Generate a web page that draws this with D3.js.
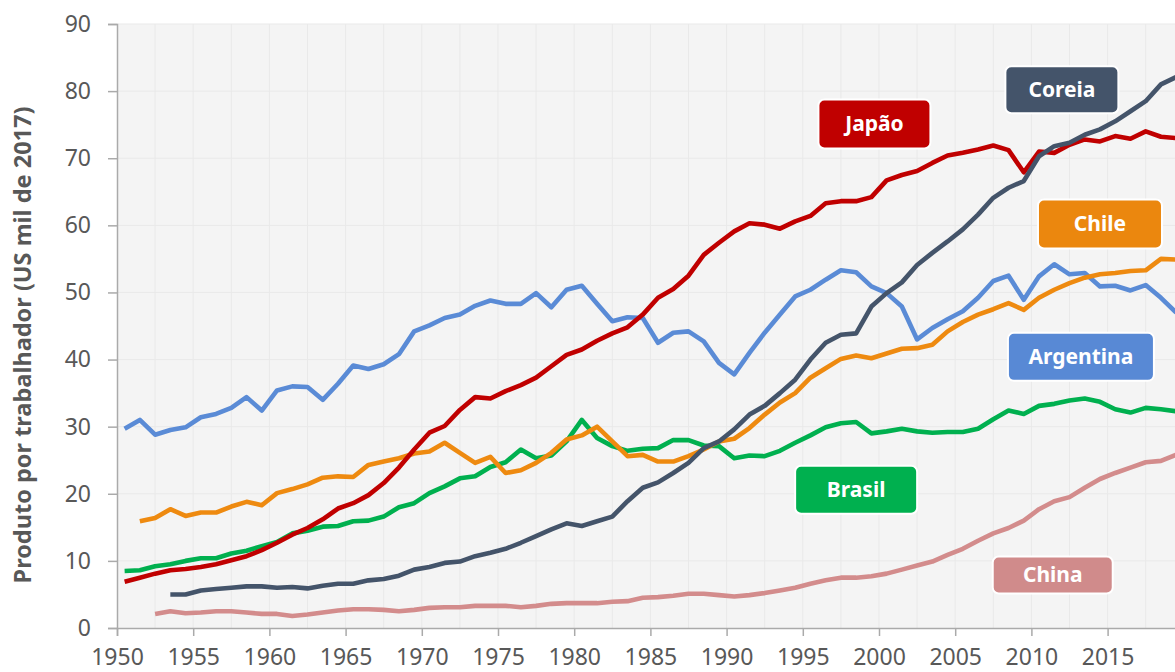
<!DOCTYPE html>
<html>
<head>
<meta charset="utf-8">
<script src="https://cdn.jsdelivr.net/npm/d3@7"></script>
<style>
  body { margin: 0; background: #fff; }
  svg { display: block; font-family: "Noto Sans", sans-serif; }
</style>
</head>
<body>
<div id="chart"></div>
<script>
// values, one per year (US$ thousand of 2017 per worker)
const japanStart = 1950;
const japan = [6.9, 7.5, 8.1, 8.6, 8.8, 9.1, 9.5, 10.1, 10.7, 11.6,
  12.7, 13.9, 14.9, 16.2, 17.8, 18.6, 19.8, 21.6, 23.9, 26.6,
  29.1, 30.1, 32.5, 34.4, 34.2, 35.3, 36.2, 37.3, 39.0, 40.7,
  41.5, 42.8, 43.9, 44.8, 46.7, 49.2, 50.5, 52.5, 55.6, 57.4,
  59.1, 60.3, 60.1, 59.5, 60.6, 61.4, 63.3, 63.6, 63.6, 64.2,
  66.7, 67.5, 68.1, 69.3, 70.4, 70.8, 71.3, 71.9, 71.2, 67.9,
  71.0, 70.8, 72.0, 72.8, 72.5, 73.3, 72.9, 74.0, 73.2, 73.0];

const koreaStart = 1953;
const korea = [5.0, 5.0, 5.6, 5.8, 6.0, 6.2, 6.2,
  6.0, 6.1, 5.9, 6.3, 6.6, 6.6, 7.1, 7.3, 7.8, 8.7,
  9.1, 9.7, 9.9, 10.7, 11.2, 11.8, 12.7, 13.7, 14.7, 15.6,
  15.2, 15.9, 16.6, 18.9, 20.9, 21.7, 23.1, 24.6, 26.8, 27.8,
  29.6, 31.8, 33.1, 35.0, 37.0, 40.0, 42.5, 43.7, 43.9, 47.9,
  49.9, 51.5, 54.1, 55.9, 57.6, 59.4, 61.6, 64.1, 65.6, 66.6,
  70.3, 71.8, 72.3, 73.5, 74.3, 75.5, 77.0, 78.5, 81.0, 82.1];

const chileStart = 1951;
const chile = [15.9, 16.4, 17.7, 16.7, 17.2, 17.2, 18.1, 18.8, 18.3,
  20.1, 20.7, 21.4, 22.4, 22.6, 22.5, 24.3, 24.8, 25.3, 26.0,
  26.3, 27.6, 26.1, 24.6, 25.5, 23.1, 23.5, 24.6, 26.1, 28.1,
  28.7, 30.0, 27.8, 25.6, 25.8, 24.8, 24.8, 25.6, 26.6, 27.8,
  28.2, 29.8, 31.8, 33.6, 35.0, 37.3, 38.7, 40.1, 40.6, 40.2,
  40.9, 41.6, 41.7, 42.2, 44.2, 45.6, 46.7, 47.5, 48.4, 47.4,
  49.2, 50.4, 51.4, 52.2, 52.7, 52.9, 53.2, 53.3, 55.0, 54.9];

const argentinaStart = 1950;
const argentina = [29.7, 31.0, 28.8, 29.5, 29.9, 31.4, 31.9, 32.8, 34.4, 32.4,
  35.4, 36.0, 35.9, 34.0, 36.4, 39.1, 38.6, 39.3, 40.8, 44.2,
  45.1, 46.2, 46.7, 48.0, 48.8, 48.3, 48.3, 49.9, 47.8, 50.4,
  51.0, 48.3, 45.7, 46.3, 46.2, 42.5, 44.0, 44.2, 42.7, 39.5,
  37.8, 41.0, 44.0, 46.7, 49.4, 50.4, 51.9, 53.3, 53.0, 50.9,
  49.9, 47.9, 43.0, 44.7, 46.0, 47.2, 49.2, 51.7, 52.5, 48.9,
  52.4, 54.2, 52.7, 52.9, 50.9, 51.0, 50.3, 51.1, 49.2, 47.0];

const brazilStart = 1950;
const brazil = [8.5, 8.6, 9.2, 9.5, 10.0, 10.4, 10.4, 11.1, 11.5, 12.2,
  12.8, 14.1, 14.5, 15.1, 15.2, 15.9, 16.0, 16.6, 18.0, 18.6,
  20.1, 21.1, 22.3, 22.6, 24.0, 24.7, 26.6, 25.3, 25.7, 27.8,
  31.0, 28.3, 27.1, 26.4, 26.7, 26.8, 28.0, 28.0, 27.2, 27.1,
  25.3, 25.7, 25.6, 26.4, 27.6, 28.7, 29.9, 30.5, 30.7, 29.0,
  29.3, 29.7, 29.3, 29.1, 29.2, 29.2, 29.7, 31.1, 32.4, 31.9,
  33.1, 33.4, 33.9, 34.2, 33.7, 32.6, 32.1, 32.8, 32.6, 32.3];

const chinaStart = 1952;
const china = [2.1, 2.5, 2.2, 2.3, 2.5, 2.5, 2.3, 2.1,
  2.1, 1.8, 2.0, 2.3, 2.6, 2.8, 2.8, 2.7, 2.5, 2.7,
  3.0, 3.1, 3.1, 3.3, 3.3, 3.3, 3.1, 3.3, 3.6, 3.7,
  3.7, 3.7, 3.9, 4.0, 4.5, 4.6, 4.8, 5.1, 5.1, 4.9,
  4.7, 4.9, 5.2, 5.6, 6.0, 6.6, 7.1, 7.5, 7.5, 7.7,
  8.1, 8.7, 9.3, 9.9, 10.9, 11.8, 13.0, 14.1, 14.9, 16.0,
  17.7, 18.9, 19.5, 20.9, 22.2, 23.1, 23.9, 24.7, 24.9, 25.8];

const xTicks = [1950, 1955, 1960, 1965, 1970, 1975, 1980, 1985, 1990, 1995, 2000, 2005, 2010, 2015];
const yTicks = [0, 10, 20, 30, 40, 50, 60, 70, 80, 90];

// label boxes, centred on a (year, value) point
const labels = [
  { name: "Japão",     year: 1999.7, value: 75.1, w: 112, h: 49, color: "#c00000" },
  { name: "Coreia",    year: 2012.0, value: 80.2, w: 113, h: 47, color: "#44546a" },
  { name: "Chile",     year: 2014.5, value: 60.2, w: 124, h: 49, color: "#eb870e" },
  { name: "Argentina", year: 2013.25, value: 40.4, w: 146, h: 48, color: "#5889d5" },
  { name: "Brasil",    year: 1998.5, value: 20.6, w: 122, h: 48, color: "#00b04f" },
  { name: "China",     year: 2011.4, value: 7.9,  w: 120, h: 37, color: "#d08b8b" }
];

const series = [
  { name: "China",     start: chinaStart,     values: china,     color: "#d38c8c" },
  { name: "Brasil",    start: brazilStart,    values: brazil,    color: "#00b04f" },
  { name: "Argentina", start: argentinaStart, values: argentina, color: "#5a8bd6" },
  { name: "Chile",     start: chileStart,     values: chile,     color: "#ee8a10" },
  { name: "Japão",     start: japanStart,     values: japan,     color: "#c00000" },
  { name: "Coreia",    start: koreaStart,     values: korea,     color: "#44546a" }
];

const width = 1175, height = 672;
const margin = { top: 24, left: 117, bottom: 44 };

const x = d3.scaleLinear().domain([1950, 2020]).range([margin.left, margin.left + 70 * 15.24]);
const y = d3.scaleLinear().domain([0, 90]).range([height - margin.bottom, margin.top]);

const svg = d3.select("#chart").append("svg")
  .attr("width", width)
  .attr("height", height);

// plot background
svg.append("rect")
  .attr("x", x(1950)).attr("y", y(90))
  .attr("width", x(2020) - x(1950)).attr("height", y(0) - y(90))
  .attr("fill", "#f4f4f4");

// grid: vertical every 2.5 years, horizontal at the y ticks
svg.append("g").selectAll("line")
  .data(d3.range(1952.5, 2020, 2.5))
  .join("line")
  .attr("x1", d => x(d)).attr("x2", d => x(d))
  .attr("y1", y(90)).attr("y2", y(0))
  .attr("stroke", "#e9e9e9").attr("stroke-width", 1);

svg.append("g").selectAll("line")
  .data(yTicks.slice(1))
  .join("line")
  .attr("x1", x(1950)).attr("x2", x(2020))
  .attr("y1", d => y(d)).attr("y2", d => y(d))
  .attr("stroke", "#e9e9e9").attr("stroke-width", 1);

// axes
const yAxis = svg.append("g")
  .attr("transform", `translate(${x(1950)},0)`)
  .call(d3.axisLeft(y).tickValues(yTicks).tickSize(9).tickPadding(17));

const xAxis = svg.append("g")
  .attr("transform", `translate(0,${y(0)})`)
  .call(d3.axisBottom(x).tickValues(xTicks).tickFormat(d3.format("d")).tickSize(8).tickPadding(13));

[yAxis, xAxis].forEach(a => {
  a.select(".domain").attr("stroke", "#aaaaaa").attr("stroke-width", 1.5);
  a.selectAll(".tick line").attr("stroke", "#aaaaaa").attr("stroke-width", 1.5);
  a.selectAll(".tick text")
    .attr("fill", "#585858")
    .attr("font-family", "Noto Sans, sans-serif");
});
yAxis.selectAll(".tick text").attr("font-size", 23);
xAxis.selectAll(".tick text").attr("font-size", 23);

// y title
svg.append("text")
  .attr("transform", `translate(31,${345}) rotate(-90)`)
  .attr("text-anchor", "middle")
  .attr("font-size", 23.5)
  .attr("font-weight", "bold")
  .attr("fill", "#585858")
  .text("Produto por trabalhador (US mil de 2017)");

// lines, each point at mid-year
const line = d3.line()
  .x(d => x(d.year + 0.5))
  .y(d => y(d.value));

svg.append("g").selectAll("path")
  .data(series)
  .join("path")
  .attr("d", s => line(s.values.map((v, i) => ({ year: s.start + i, value: v }))))
  .attr("fill", "none")
  .attr("stroke", s => s.color)
  .attr("stroke-width", 4.6)
  .attr("stroke-linejoin", "round");

// labels
const lab = svg.append("g").selectAll("g")
  .data(labels)
  .join("g")
  .attr("transform", d => `translate(${x(d.year)},${y(d.value)})`);

lab.append("rect")
  .attr("x", d => -d.w / 2).attr("y", d => -d.h / 2)
  .attr("width", d => d.w).attr("height", d => d.h)
  .attr("rx", 6)
  .attr("fill", d => d.color)
  .attr("stroke", "#ffffff").attr("stroke-width", 2);

lab.append("text")
  .attr("text-anchor", "middle")
  .attr("dy", "0.35em")
  .attr("font-size", 21)
  .attr("font-weight", "bold")
  .attr("fill", "#ffffff")
  .text(d => d.name);
</script>
</body>
</html>
